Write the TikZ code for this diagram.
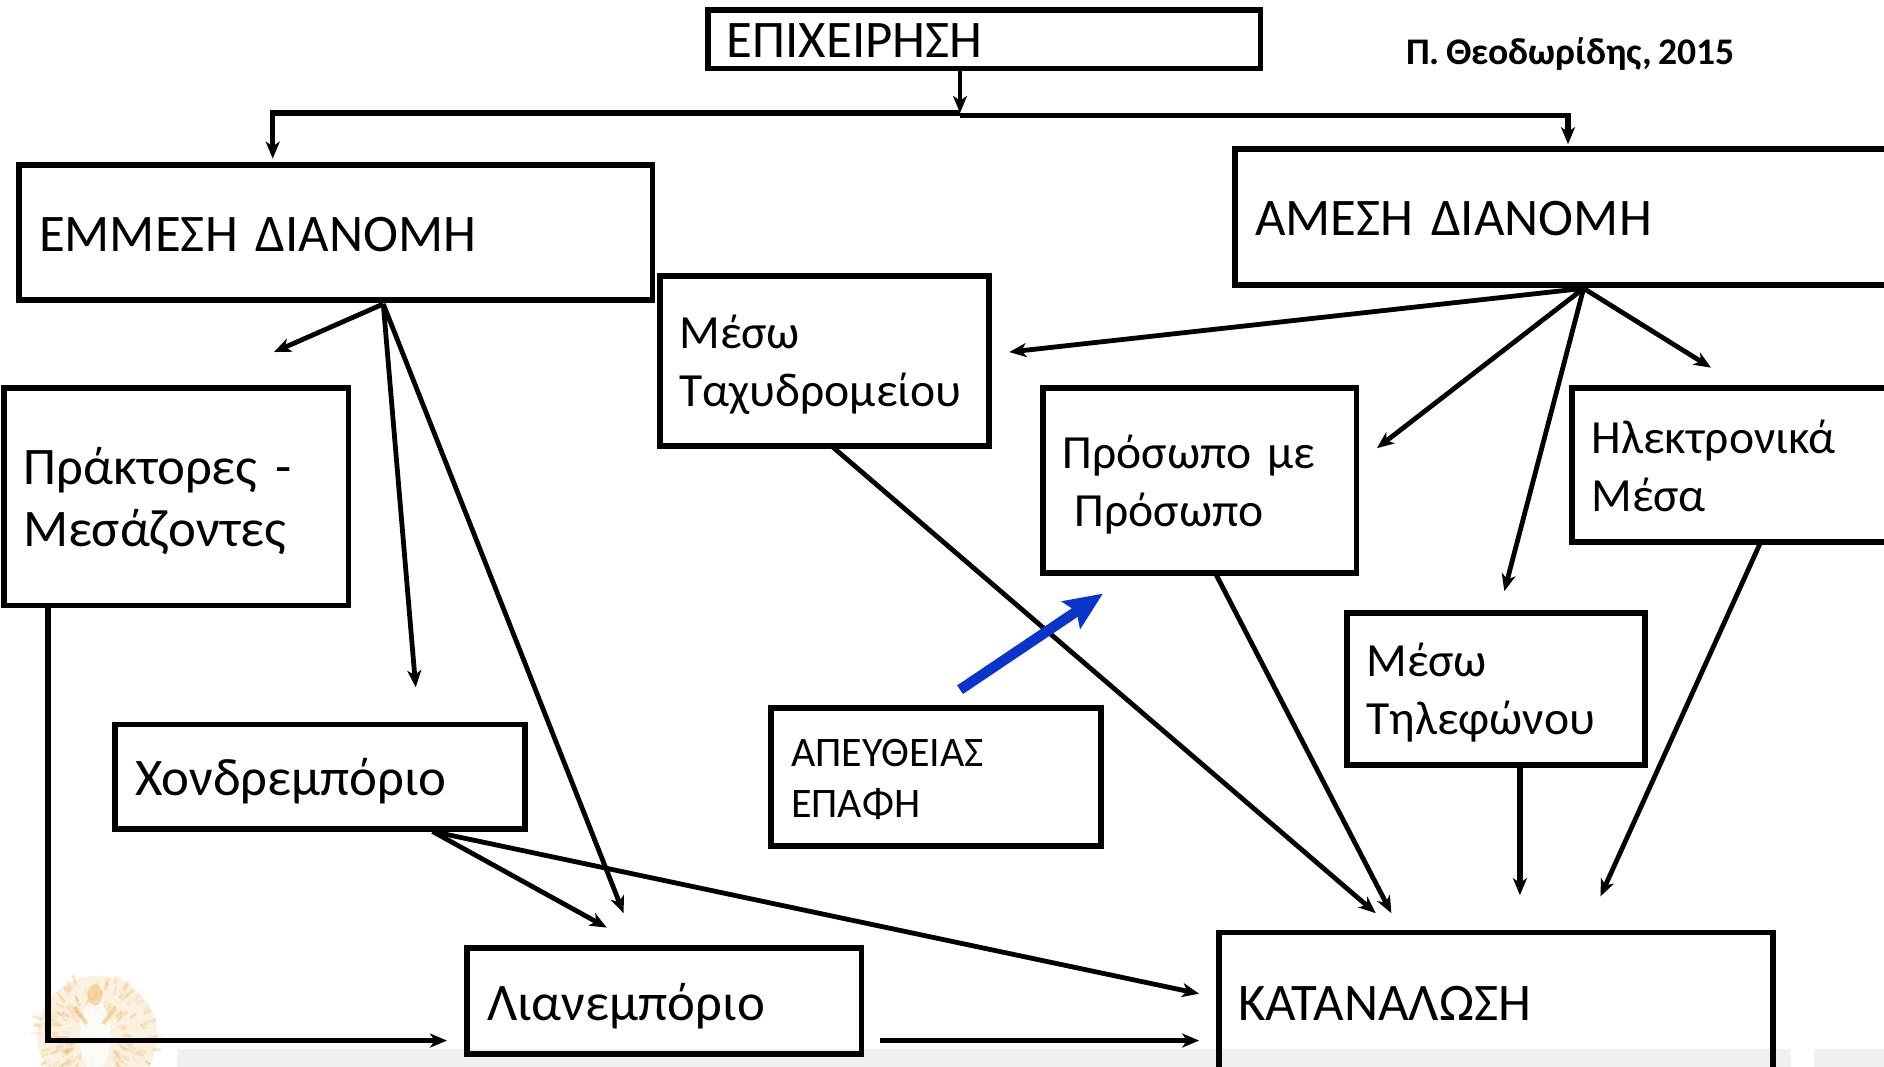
\documentclass[tikz,border=0pt]{standalone}
\usepackage{fontspec}
\setmainfont[WordSpace=0.72]{Carlito}
\usetikzlibrary{arrows.meta}
\definecolor{bandgrey}{HTML}{F0F0F0}
\definecolor{sealorange}{HTML}{EDBE78}
\definecolor{arrowblue}{HTML}{0A35C8}
\newlength{\ux}\setlength{\ux}{0.60077pt}
\tikzset{
  flowbox/.style={draw=black,line width=2.9pt,anchor=north west,outer sep=0pt,inner xsep=9.1pt,inner ysep=0pt,align=left},
  lastbase/.style={text height=2*#1*\ux,text depth=0pt},
  firstbase/.style={text height=0pt,text depth=2*#1*\ux},
  big/.style={font=\fontsize{26.4}{31.2}\selectfont},
  mid/.style={font=\fontsize{23.8}{29}\selectfont},
  small/.style={font=\fontsize{21}{25.3}\selectfont},
  conn/.style={draw=black,line width=2.4pt,-{Stealth[length=8.5pt,width=7pt,inset=2.4pt]}},
  heavy/.style={line width=2.7pt},
}
\begin{document}
\begin{tikzpicture}[x=0.60077pt,y=-0.60079pt]
\useasboundingbox (0,0) rectangle (1568,888);
\clip (0,0) rectangle (1568,888);
% seal
\begin{scope}
\pgfmathsetseed{7}
\fill[sealorange,opacity=.22] (81,862) circle (50);
\foreach \i in {1,...,170}{
  \pgfmathsetmacro{\a}{rnd*360}
  \pgfmathsetmacro{\r}{18+rnd*30}
  \pgfmathsetmacro{\o}{.15+rnd*.3}
  \draw[sealorange,line width=1.5pt,opacity=\o] (81,862)++(\a:\r) -- ++(\a:4+rnd*5);
}
\fill[white,opacity=.75] (79,862) ellipse (13 and 30);
\fill[sealorange,opacity=.55] (79,828) ellipse (6 and 9);
\draw[sealorange,line width=2pt,opacity=.6] (62,838) -- (72,852) (96,838) -- (86,852);
\end{scope}
% grey bands
\fill[bandgrey] (147,873) rectangle (1491,888);
\fill[bandgrey] (1510,873) rectangle (1568,888);
% boxes
\node[flowbox,big,lastbase=15,minimum width=460*\ux,minimum height=49*\ux,text width=428*\ux] (epix) at (589,8) {ΕΠΙΧΕΙΡΗΣΗ};
\node[flowbox,big,lastbase=15.5,minimum width=527*\ux,minimum height=113*\ux,text width=494*\ux] (emmesi) at (16,137) {ΕΜΜΕΣΗ ΔΙΑΝΟΜΗ};
\node[flowbox,big,lastbase=15.5,minimum width=558*\ux,minimum height=113*\ux,text width=525*\ux] (amesi) at (1028,124) {ΑΜΕΣΗ ΔΙΑΝΟΜΗ};
\node[flowbox,mid,firstbase=10.5,minimum width=274*\ux,minimum height=141*\ux,text width=241*\ux] (tax) at (549,230) {Μέσω\\Ταχυδρομείου};
\node[flowbox,mid,firstbase=10,minimum width=261*\ux,minimum height=154*\ux,text width=228*\ux] (pros) at (868,323) {Πρόσωπο με\\\hspace*{6pt}Πρόσωπο};
\node[flowbox,mid,firstbase=9.5,minimum width=278*\ux,minimum height=128*\ux,text width=245*\ux] (ilek) at (1308,323) {Ηλεκτρονικά\\Μέσα};
\node[flowbox,big,firstbase=10.5,minimum width=287*\ux,minimum height=181*\ux,text width=254*\ux] (prak) at (3,323) {Πράκτορες -\\Μεσάζοντες};
\node[flowbox,big,lastbase=15.5,minimum width=341*\ux,minimum height=87*\ux,text width=308*\ux] (xon) at (96,603) {Χονδρεμπόριο};
\node[flowbox,small,firstbase=8.5,minimum width=274*\ux,minimum height=115*\ux,text width=241*\ux] (apef) at (642,589) {ΑΠΕΥΘΕΙΑΣ\\ΕΠΑΦΗ};
\node[flowbox,mid,firstbase=10.5,minimum width=248*\ux,minimum height=127*\ux,text width=215*\ux] (tel) at (1121,510) {Μέσω\\Τηλεφώνου};
\node[flowbox,big,lastbase=16,minimum width=328*\ux,minimum height=88*\ux,text width=295*\ux] (lian) at (389,789) {Λιανεμπόριο};
\node[flowbox,big,lastbase=14,minimum width=461*\ux,minimum height=118*\ux,text width=429*\ux] (kat) at (1014.5,776) {ΚΑΤΑΝΑΛΩΣΗ};
\node[anchor=base west,inner sep=0pt,font=\fontsize{18.8}{20}\selectfont\bfseries] (author) at (1170,54) {Π. Θεοδωρίδης, 2015};
% connection points
\coordinate (epixs) at (799,58);
\coordinate (juncl) at (799,94);
\coordinate (juncr) at (799,96);
\coordinate (emmt) at (227,132);
\coordinate (amet) at (1305,120);
\coordinate (emmb) at (319,253);
\coordinate (ameb) at (1318,240);
\coordinate (e1) at (228,293);
\coordinate (e2) at (346,572);
\coordinate (e3) at (519,760);
\coordinate (a1) at (840,293);
\coordinate (a2) at (1146,373);
\coordinate (a3) at (1252,492);
\coordinate (a4) at (1424,306);
\coordinate (taxb) at (693,372);
\coordinate (prob) at (1012,478);
\coordinate (ilekb) at (1465,452);
\coordinate (telb) at (1265,638);
\coordinate (k1) at (1145,760);
\coordinate (k2) at (1158,760);
\coordinate (k3) at (1265,745);
\coordinate (k4) at (1332,746);
\coordinate (bs) at (799,574);
\coordinate (be) at (918,494);
\coordinate (prb) at (40,505);
\coordinate (prc) at (40,866);
\coordinate (lw) at (372,866);
\coordinate (xb) at (360,692);
\coordinate (l1) at (505,772);
\coordinate (k5) at (998,827);
\coordinate (lr) at (732,866);
\coordinate (k6) at (998,866);
% connectors
\draw[conn,heavy] (juncl) -- (emmt |- juncl) -- (emmt);
\draw[conn,heavy] (juncr) -- (amet |- juncr) -- (amet);
\draw[conn] (epixs) -- (juncl);
\draw[conn] (emmb) -- (e1);
\draw[conn] (emmb) -- (e2);
\draw[conn] (emmb) -- (e3);
\draw[conn] (ameb) -- (a1);
\draw[conn] (ameb) -- (a2);
\draw[conn] (ameb) -- (a3);
\draw[conn] (ameb) -- (a4);
\draw[conn] (taxb) -- (k1);
\draw[conn] (prob) -- (k2);
\draw[conn,heavy] (telb) -- (k3);
\draw[conn] (ilekb) -- (k4);
\draw[conn,draw=arrowblue,line width=5.2pt,-{Stealth[length=19pt,width=16pt,inset=3pt]}] (bs) -- (be);
\draw[conn,heavy] (prb) -- (prc) -- (lw);
\draw[conn] (xb) -- (l1);
\draw[conn] (xb) -- (k5);
\draw[conn,heavy] (lr) -- (k6);
\end{tikzpicture}
\end{document}
